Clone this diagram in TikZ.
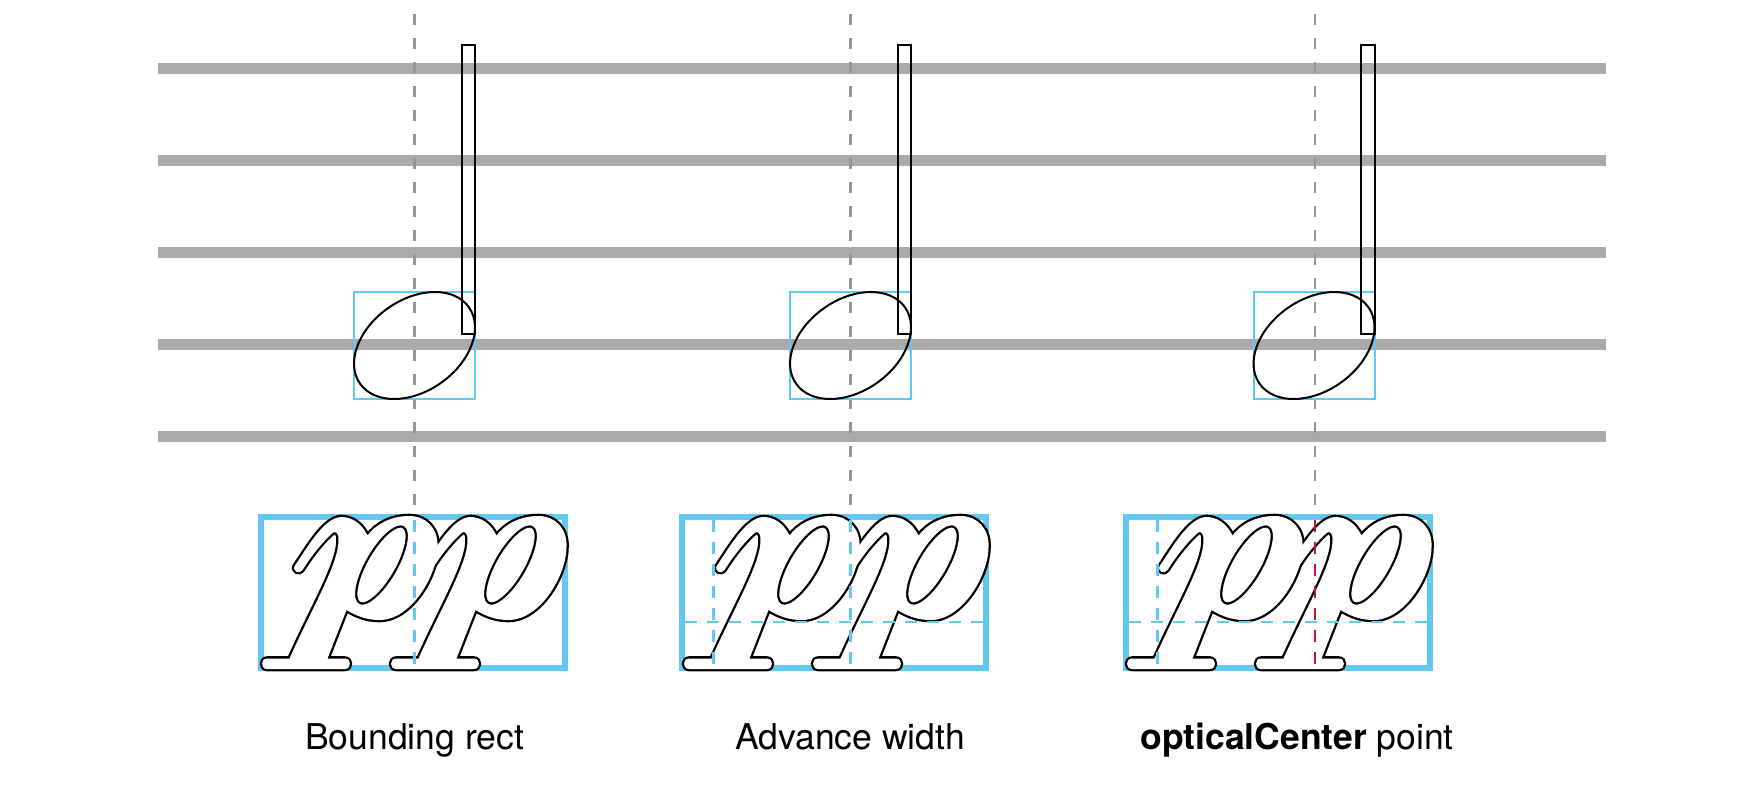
\documentclass[tikz,border=0pt]{standalone}
\usepackage{fontspec}
\setmainfont{TeX Gyre Heros}
\definecolor{staff}{RGB}{170,170,170}
\definecolor{guide}{RGB}{150,150,150}
\definecolor{sky}{RGB}{99,201,243}
\definecolor{optred}{RGB}{200,20,45}
\newcommand\pglyphpath[1]{%
\path[#1] (33.5,48.5) .. controls (46,30) and (63,0) .. (80,0)
 .. controls (90,0) and (100,6) .. (106,18.5)
 .. controls (114,8) and (128,-1) .. (148,-1)
 .. controls (165,-1) and (177,12) .. (176,30)
 .. controls (176,58) and (150,103) .. (118,103)
 .. controls (105,103) and (95,99) .. (85,93)
 -- (66,141.5) -- (83.25,141.5)
 .. controls (90.25,141.5) and (90.25,152) .. (83.25,152)
 -- (5.75,152)
 .. controls (-1.25,152) and (-1.25,141.5) .. (5.75,141.5)
 -- (28,141.5)
 .. controls (52,88) and (78,45) .. (77,22)
 .. controls (77,15) and (73,13) .. (70,17)
 .. controls (58,28) and (48,42) .. (41,53)
 .. controls (38,58) and (30,54) .. (33.5,48.5) -- cycle
 (142.5,9.03) .. controls (150.15,13.45) and (146.29,34.48) .. (133.86,56)
 .. controls (121.43,77.52) and (105.15,91.39) .. (97.5,86.97)
 .. controls (89.85,82.55) and (93.71,61.52) .. (106.14,40)
 .. controls (118.57,18.48) and (134.85,4.61) .. (142.5,9.03) -- cycle;}
\newcommand\ppglyph[2]{%
 \begin{scope}[shift={(#1,#2)}]\pglyphpath{draw=black,line width=4.6pt,line join=round}\end{scope}
 \begin{scope}[shift={(#1+129,#2)}]\pglyphpath{draw=black,line width=4.6pt,line join=round}\end{scope}
 \begin{scope}[shift={(#1,#2)}]\pglyphpath{fill=white,even odd rule}\end{scope}
 \begin{scope}[shift={(#1+129,#2)}]\pglyphpath{fill=white,even odd rule}\end{scope}}
\newcommand\quarternote[1]{%
 \draw[notebox] (#1-60.5,292) rectangle (#1+60.5,399);
 \draw[outline, rotate around={35:(#1,345.5)}] (#1,345.5) ellipse[x radius=66.5, y radius=45.8];
 \draw[outline] (#1+47,45) rectangle (#1+60.5,334);}
\begin{document}
\begin{tikzpicture}[x=1pt,y=-1pt,
  staffline/.style={line width=10.5pt, draw=staff},
  guideline/.style={line width=2.2pt, draw=guide, dash pattern=on 11pt off 13pt},
  notebox/.style={line width=2pt, draw=sky},
  pbox/.style={line width=6pt, draw=sky},
  bluedash/.style={line width=2.5pt, draw=sky, dash pattern=on 12pt off 10pt},
  reddash/.style={line width=2.5pt, draw=optred, dash pattern=on 12pt off 10pt},
  outline/.style={line width=2pt, draw=black},
  label/.style={font=\fontsize{35.5}{42}\selectfont, anchor=base, inner sep=0pt}]
\useasboundingbox[fill=white] (0,0) rectangle (1760,806);
% staff
\foreach \yy in {68.5,160.5,252.5,344.5,436.5}
  \draw[staffline] (158,\yy) -- (1606,\yy);
% guide lines
\foreach \xx in {414.5,850.5,1315}
  \draw[guideline] (\xx,14) -- (\xx,514);
% notes
\quarternote{414.5}
\quarternote{850.5}
\quarternote{1314}
% pp boxes
\draw[pbox] (261,517) rectangle (565,668);
\draw[pbox] (682,517) rectangle (986,668);
\draw[pbox] (1126,517) rectangle (1430,668);
\ppglyph{261.5}{517}
\ppglyph{683.5}{517}
\ppglyph{1126.5}{517}
% in-box guides
\draw[bluedash] (414.5,520) -- (414.5,665);
\draw[bluedash] (713.5,520) -- (713.5,665);
\draw[bluedash] (850.5,520) -- (850.5,665);
\draw[bluedash] (685,622) -- (983,622);
\draw[bluedash] (1157.5,520) -- (1157.5,665);
\draw[bluedash] (1129,622) -- (1427,622);
\draw[reddash] (1315,520) -- (1315,665);
% labels
\node[label] (lab1) at (414.5,749) {Bounding rect};
\node[label] (lab2) at (850,749) {Advance width};
\node[label] (lab3) at (1297,749) {{\bfseries opticalCenter} point};
\end{tikzpicture}
\end{document}
